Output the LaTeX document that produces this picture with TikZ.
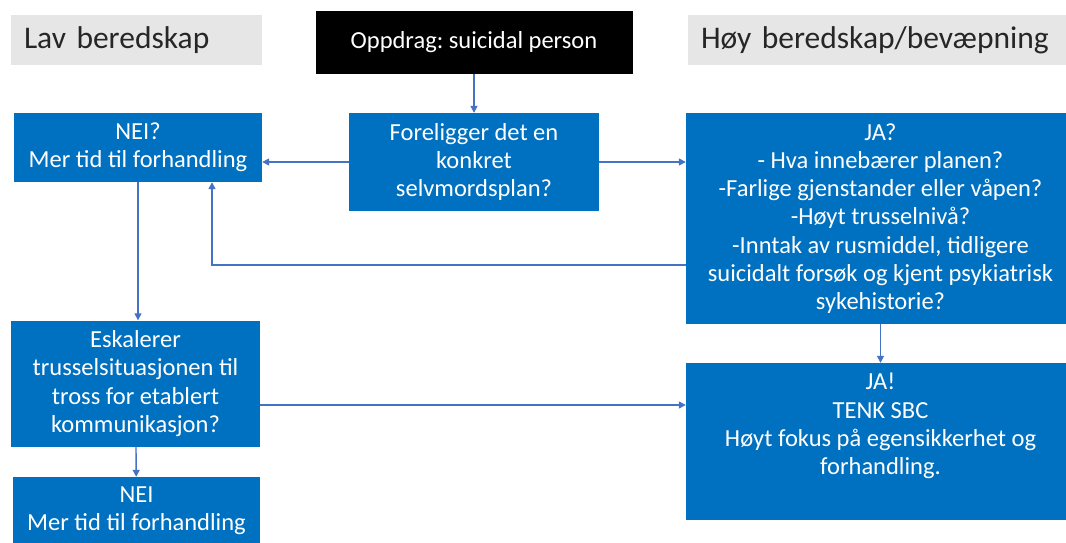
\documentclass[tikz,border=0pt]{standalone}
\usepackage{fontspec}
\setmainfont{Carlito}
\usepackage{tikz}
\usetikzlibrary{arrows.meta}
\frenchspacing
\definecolor{boxblue}{RGB}{0,112,192}
\definecolor{arrowblue}{RGB}{68,114,196}
\definecolor{headgrey}{RGB}{231,230,230}
\definecolor{headtext}{RGB}{38,38,38}
\tikzset{headbox/.style = {shape = rectangle, fill = headgrey, text = headtext, minimum height = 50pt, inner xsep = 13pt, inner ysep = 0pt, align = left, font = \fontsize{31.5}{36}\selectfont}}
\tikzset{bluebox/.style = {shape = rectangle, fill = boxblue, text = white, inner sep = 0pt, align = center, font = \fontsize{24.5}{28.3}\selectfont}}
\tikzset{taskbox/.style = {bluebox, fill = black}}
\tikzset{edge/.style = {draw = arrowblue, line width = 1.4pt, -{Triangle[length = 7pt, width = 7pt]}}}

\begin{document}
\begin{tikzpicture}[x = 1pt, y = -1pt]
				\path[use as bounding box, clip] (0, 0) rectangle (1066, 542);

				\node[headbox, text width = 225pt] (lav) at (136.5, 40) {Lav beredskap};
				\node[headbox, text width = 361pt] (hoy) at (881.5, 40) {Høy beredskap/bevæpning};
				\node[taskbox, minimum width = 317pt, minimum height = 63pt] (oppdrag) at (474, 42.5) {Oppdrag: suicidal person};

				\node[bluebox, minimum width = 248pt, minimum height = 69pt] (nei1) at (138, 147.5) {NEI?\\Mer tid til forhandling};
				\node[bluebox, minimum width = 250pt, minimum height = 98pt] (plan) at (474, 162) {Foreligger det en\\konkret\\selvmordsplan?};
				\node[bluebox, minimum width = 389pt, minimum height = 211pt] (ja1) at (880.5, 218.5) {JA?\\- Hva innebærer planen?\\-Farlige gjenstander eller våpen?\\-Høyt trusselnivå?\\-Inntak av rusmiddel, tidligere\\suicidalt forsøk og kjent psykiatrisk\\sykehistorie?};
				\node[bluebox, minimum width = 249pt, minimum height = 126pt] (eskal) at (135.5, 383.5) {Eskalerer\\trusselsituasjonen til\\tross for etablert\\kommunikasjon?};
				\node[bluebox, minimum width = 247pt, minimum height = 67pt] (nei2) at (136.5, 510.5) {NEI\\Mer tid til forhandling};
				\node[bluebox, minimum width = 389pt, minimum height = 157pt] (ja2) at (880.5, 441.5) {};
				\node[bluebox, fill = none, anchor = north] (ja2text) at (880.5, 373) {JA!\\TENK SBC\\Høyt fokus på egensikkerhet og\\forhandling.};

				\coordinate (back) at (212, 265);
				\coordinate (link) at ([yshift = -21.5pt]eskal.east);

				\draw[edge] (oppdrag) -- (plan);
				\draw[edge] (plan.west) -- (plan.west -| nei1.east);
				\draw[edge] (plan.east) -- (plan.east -| ja1.west);
				\draw[edge] (back -| ja1.west) -- (back) -- (back |- nei1.south);
				\draw[edge] (nei1.south) -- (nei1.south |- eskal.north);
				\draw[edge] (link) -- (link -| ja2.west);
				\draw[edge] (ja1) -- (ja2);
				\draw[edge] (eskal) -- (nei2);
			\end{tikzpicture}
\end{document}
